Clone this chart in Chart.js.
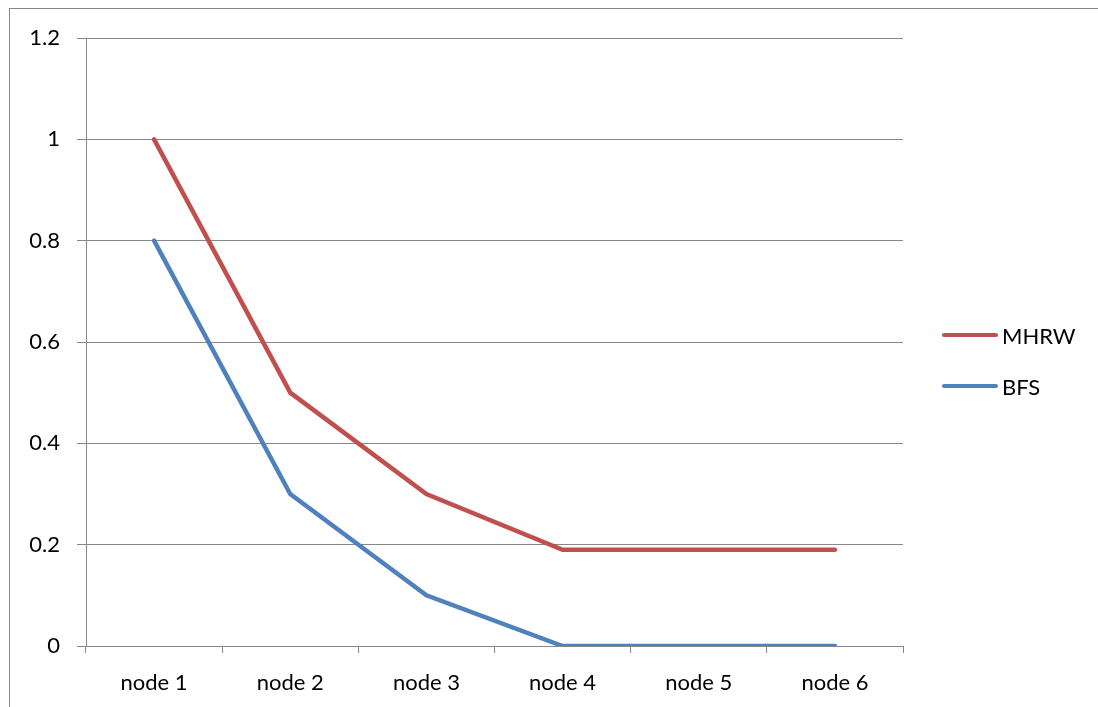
<!DOCTYPE html>
<html>
<head>
<meta charset="utf-8">
<script src="https://cdn.jsdelivr.net/npm/chart.js@4/dist/chart.umd.min.js"></script>
<style>
  body { margin: 0; background: #fff; }
  #wrap { position: relative; width: 1098px; height: 707px; overflow: hidden; font-family: Lato, "Open Sans", sans-serif; }
  #frame { position: absolute; left: 9px; top: 8px; width: 1200px; height: 800px; border: 1px solid #888; box-sizing: border-box; }
  #myChart { position: absolute; left: 0; top: 0; }
  .legend-item { position: absolute; left: 942px; height: 26px; display: flex; align-items: center; font-size: 22px; color: #000; }
  .legend-item span.swatch { display: inline-block; width: 56px; height: 4.5px; border-radius: 2px; margin-right: 4px; }
</style>
</head>
<body>
<div id="wrap">
  <div id="frame"></div>
  <canvas id="myChart" width="1098" height="707"></canvas>
  <div id="legend"></div>
</div>
<script>
const categories = ["node 1", "node 2", "node 3", "node 4", "node 5", "node 6"];
const mhrwValues = [1, 0.5, 0.3, 0.19, 0.19, 0.19];
const bfsValues = [0.8, 0.3, 0.1, 0, 0, 0];
const yTicks = [0, 0.2, 0.4, 0.6, 0.8, 1, 1.2];

const seriesNames = ["MHRW", "BFS"];
const seriesColors = ["#C0504D", "#4F81BD"];

const gridColor = "#888888";

const chart = new Chart(document.getElementById("myChart"), {
  type: 'line',
  data: {
    labels: categories,
    datasets: [{
      label: seriesNames[0],
      data: mhrwValues,
      borderColor: seriesColors[0],
      borderWidth: 4.5,
      pointRadius: 0,
      tension: 0,
      borderCapStyle: 'round'
    }, {
      label: seriesNames[1],
      data: bfsValues,
      borderColor: seriesColors[1],
      borderWidth: 4.5,
      pointRadius: 0,
      tension: 0,
      borderCapStyle: 'round'
    }]
  },
  options: {
    responsive: false,
    animation: false,
    layout: {
      padding: { left: 0, top: 38, right: 195, bottom: 0 }
    },
    plugins: {
      legend: { display: false },
      tooltip: { enabled: false }
    },
    scales: {
      x: {
        offset: true,
        grid: {
          offset: true,
          drawOnChartArea: false,
          color: gridColor,
          tickLength: 7
        },
        border: { color: gridColor, width: 1 },
        ticks: {
          color: '#000',
          font: { family: 'Lato', size: 22 },
          padding: 17,
          maxRotation: 0
        },
        afterFit: (scale) => { scale.height = 61; }
      },
      y: {
        min: 0,
        max: 1.2,
        afterBuildTicks: (scale) => {
          scale.ticks = yTicks.map(v => ({ value: v }));
        },
        grid: {
          color: gridColor,
          tickLength: 9
        },
        border: { color: gridColor, width: 1 },
        ticks: {
          color: '#000',
          font: { family: 'Lato', size: 22 },
          padding: 17,
          callback: (v) => String(v)
        },
        afterFit: (scale) => { scale.width = 86; }
      }
    }
  }
});

// legend on the right, like the original
const legend = document.getElementById("legend");
const legendTops = [322, 373];
seriesNames.forEach((name, i) => {
  const item = document.createElement("div");
  item.className = "legend-item";
  item.style.top = legendTops[i] + "px";
  item.innerHTML = '<span class="swatch" style="background:' + seriesColors[i] + '"></span>' + name;
  legend.appendChild(item);
});
</script>
</body>
</html>
